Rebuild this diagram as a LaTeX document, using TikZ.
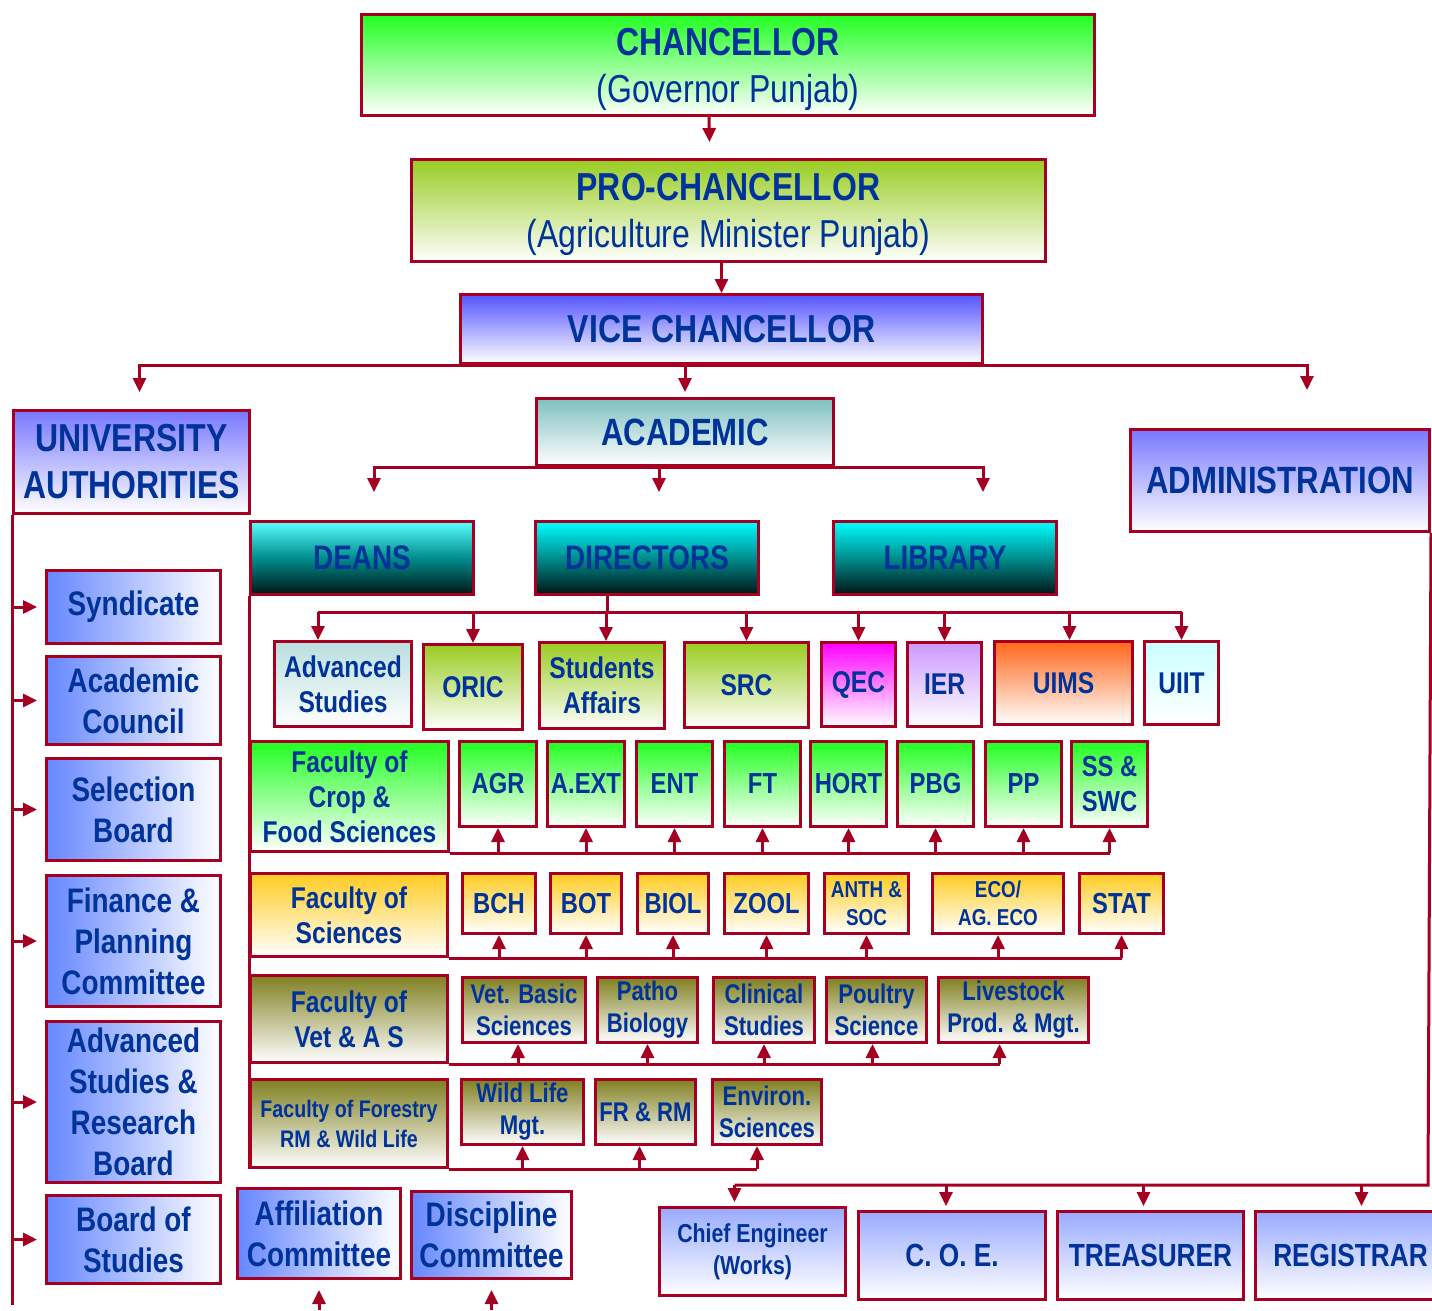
\documentclass[tikz,border=0pt]{standalone}
\usepackage{fontspec}
\setmainfont[FakeStretch=0.82]{Liberation Sans}
\usetikzlibrary{arrows.meta,calc}
\definecolor{BoxClr}{rgb}{0.647,0,0.129}
\definecolor{TxtClr}{rgb}{0,0.2,0.6}
\definecolor{GreenClr}{rgb}{0.13,1,0.13}
\definecolor{OliveClr}{rgb}{0.6,0.8,0.13}
\definecolor{VCClr}{rgb}{0.33,0.33,1}
\definecolor{UAClr}{rgb}{0.47,0.47,1}
\definecolor{AcadClr}{rgb}{0.5,0.75,0.75}
\definecolor{DeanMid}{rgb}{0,0.55,0.55}
\definecolor{DeanBot}{rgb}{0,0.08,0.08}
\definecolor{AdvClr}{rgb}{0.73,0.87,0.87}
\definecolor{QECClr}{rgb}{1,0,1}
\definecolor{IERClr}{rgb}{0.8,0.6,1}
\definecolor{UIMSClr}{rgb}{1,0.4,0.1}
\definecolor{UIITClr}{rgb}{0.8,1,1}
\definecolor{SciClr}{rgb}{1,0.8,0.13}
\definecolor{VetClr}{rgb}{0.5,0.5,0.13}
\definecolor{SideClr}{rgb}{0.4,0.53,1}
\definecolor{AdmClr}{rgb}{0.6,0.67,1}
\newcommand{\fsz}[2]{\fontsize{#1}{#2}\selectfont\bfseries}

\begin{document}
\begin{tikzpicture}[x=1pt,y=-1pt,
  unit/.style={draw=BoxClr,line width=3pt,text=TxtClr,align=center,inner sep=0pt,anchor=north west},
  vgrad/.style={top color=#1,bottom color=white},
  hgrad/.style={left color=#1,right color=white},
  dgrad/.style={top color=#1,bottom color=DeanBot,middle color=DeanMid},
  wire/.style={draw=BoxClr,line width=3pt},
  link/.style={wire,-{Triangle[length=14pt,width=13pt]}},
  hugetxt/.style={font=\fsz{39}{47}},
  bigtxt/.style={font=\fsz{34}{41}},
  midtxt/.style={font=\fsz{30}{35}},
  smalltxt/.style={font=\fsz{27}{32}},
  tinytxt/.style={font=\fsz{23}{28}}]
\useasboundingbox (0,0) rectangle (1432,1310);

% top of the chart
\node[unit,vgrad=GreenClr,hugetxt,minimum width=733pt,minimum height=101pt,text depth=-4pt] (chanc) at (360,13) {CHANCELLOR\\\mdseries(Governor Punjab)};
\node[unit,vgrad=OliveClr,hugetxt,minimum width=634pt,minimum height=102pt,text depth=-4pt] (pro) at (410,158) {PRO-CHANCELLOR\\\mdseries(Agriculture Minister Punjab)};
\node[unit,vgrad=VCClr,hugetxt,minimum width=522pt,minimum height=69pt] (vc) at (459,293) {VICE CHANCELLOR};

\node[unit,vgrad=UAClr,hugetxt,minimum width=236pt,minimum height=103pt] (ua) at (12,409) {UNIVERSITY\\AUTHORITIES};
\node[unit,vgrad=AcadClr,font=\fsz{38}{44},minimum width=297pt,minimum height=67pt] (acad) at (535,397) {ACADEMIC};
\node[unit,vgrad=UAClr,font=\fsz{38}{44},minimum width=299pt,minimum height=102pt] (admin) at (1129,428) {ADMINISTRATION};

\node[unit,dgrad=cyan!65!white,bigtxt,minimum width=223pt,minimum height=73pt] (deans) at (249,520) {DEANS};
\node[unit,dgrad=cyan,bigtxt,minimum width=223pt,minimum height=73pt] (dirs) at (534,520) {DIRECTORS};
\node[unit,dgrad=cyan,bigtxt,minimum width=223pt,minimum height=73pt] (lib) at (832,520) {LIBRARY};

% university authorities
\node[unit,hgrad=SideClr,bigtxt,minimum width=174pt,minimum height=73pt] (synd) at (45,569) {Syndicate};
\node[unit,hgrad=SideClr,bigtxt,minimum width=174pt,minimum height=88pt] (acc) at (45,655) {Academic\\Council};
\node[unit,hgrad=SideClr,bigtxt,minimum width=174pt,minimum height=102pt] (selb) at (45,757) {Selection\\Board};
\node[unit,hgrad=SideClr,bigtxt,minimum width=174pt,minimum height=131pt] (fpc) at (45,874) {Finance \&\\Planning\\Committee};
\node[unit,hgrad=SideClr,bigtxt,minimum width=174pt,minimum height=161pt] (asrb) at (45,1020) {Advanced\\Studies \&\\Research\\Board};
\node[unit,hgrad=SideClr,bigtxt,minimum width=174pt,minimum height=88pt] (bos) at (45,1194) {Board of\\Studies};
\node[unit,hgrad=SideClr,bigtxt,minimum width=163pt,minimum height=90pt] (affil) at (236,1187) {Affiliation\\Committee};
\node[unit,hgrad=SideClr,bigtxt,minimum width=160pt,minimum height=87pt] (disc) at (410,1190) {Discipline\\Committee};

% directorates
\node[unit,vgrad=AdvClr,midtxt,minimum width=137pt,minimum height=85pt] (advst) at (273,640) {Advanced\\Studies};
\node[unit,vgrad=OliveClr,midtxt,minimum width=99pt,minimum height=85pt] (oric) at (422,643) {ORIC};
\node[unit,vgrad=OliveClr,midtxt,minimum width=125pt,minimum height=86pt] (stuaff) at (538,641) {Students\\Affairs};
\node[unit,vgrad=OliveClr,midtxt,minimum width=124pt,minimum height=85pt] (src) at (683,641) {SRC};
\node[unit,vgrad=QECClr,midtxt,minimum width=74pt,minimum height=84pt] (qec) at (820,641) {QEC};
\node[unit,vgrad=IERClr,midtxt,minimum width=74pt,minimum height=84pt] (ier) at (906,641) {IER};
\node[unit,vgrad=UIMSClr,midtxt,minimum width=138pt,minimum height=83pt] (uims) at (993,640) {UIMS};
\node[unit,vgrad=UIITClr,midtxt,minimum width=74pt,minimum height=83pt] (uiit) at (1143,640) {UIIT};

% faculty of crop and food sciences
\node[unit,vgrad=GreenClr,midtxt,minimum width=198pt,minimum height=110pt] (crop) at (249,740) {Faculty of\\Crop \&\\Food Sciences};
\node[unit,vgrad=GreenClr,font=\fsz{29}{35},minimum width=77pt,minimum height=85pt] (agr) at (458,740) {AGR};
\node[unit,vgrad=GreenClr,font=\fsz{29}{35},minimum width=77pt,minimum height=85pt] (aext) at (546,740) {A.EXT};
\node[unit,vgrad=GreenClr,font=\fsz{29}{35},minimum width=76pt,minimum height=85pt] (ent) at (635,740) {ENT};
\node[unit,vgrad=GreenClr,font=\fsz{29}{35},minimum width=76pt,minimum height=85pt] (ft) at (723,740) {FT};
\node[unit,vgrad=GreenClr,font=\fsz{29}{35},minimum width=76pt,minimum height=85pt] (hort) at (809,740) {HORT};
\node[unit,vgrad=GreenClr,font=\fsz{29}{35},minimum width=76pt,minimum height=85pt] (pbg) at (896,740) {PBG};
\node[unit,vgrad=GreenClr,font=\fsz{29}{35},minimum width=76pt,minimum height=85pt] (pp) at (984,740) {PP};
\node[unit,vgrad=GreenClr,font=\fsz{29}{35},minimum width=76pt,minimum height=85pt] (sswc) at (1070,740) {SS \&\\SWC};

% faculty of sciences
\node[unit,vgrad=SciClr,midtxt,minimum width=197pt,minimum height=83pt] (sci) at (249,872) {Faculty of\\Sciences};
\node[unit,vgrad=SciClr,font=\fsz{29}{35},minimum width=73pt,minimum height=60pt] (bch) at (461,872) {BCH};
\node[unit,vgrad=SciClr,font=\fsz{29}{35},minimum width=71pt,minimum height=60pt] (bot) at (549,872) {BOT};
\node[unit,vgrad=SciClr,font=\fsz{29}{35},minimum width=71pt,minimum height=60pt] (biol) at (636,872) {BIOL};
\node[unit,vgrad=SciClr,font=\fsz{29}{35},minimum width=84pt,minimum height=60pt] (zool) at (723,872) {ZOOL};
\node[unit,vgrad=SciClr,tinytxt,minimum width=84pt,minimum height=60pt] (anth) at (823,872) {ANTH \&\\SOC};
\node[unit,vgrad=SciClr,tinytxt,minimum width=131pt,minimum height=60pt] (eco) at (931,872) {ECO/\\AG. ECO};
\node[unit,vgrad=SciClr,font=\fsz{29}{35},minimum width=84pt,minimum height=60pt] (stat) at (1078,872) {STAT};

% faculty of veterinary and animal sciences
\node[unit,vgrad=VetClr,midtxt,minimum width=197pt,minimum height=87pt] (vet) at (249,974) {Faculty of\\Vet \& A S};
\node[unit,vgrad=VetClr,smalltxt,minimum width=123pt,minimum height=65pt] (vbs) at (461,976) {Vet. Basic\\Sciences};
\node[unit,vgrad=VetClr,smalltxt,minimum width=100pt,minimum height=65pt] (patho) at (596,976) {Patho\\Biology};
\node[unit,vgrad=VetClr,smalltxt,minimum width=101pt,minimum height=65pt] (clin) at (712,976) {Clinical\\Studies};
\node[unit,vgrad=VetClr,smalltxt,minimum width=100pt,minimum height=65pt] (poul) at (825,976) {Poultry\\Science};
\node[unit,vgrad=VetClr,smalltxt,minimum width=150pt,minimum height=65pt] (live) at (937,976) {Livestock\\Prod. \& Mgt.};

% faculty of forestry
\node[unit,vgrad=VetClr,font=\fsz{24}{30},minimum width=197pt,minimum height=88pt] (forest) at (249,1078) {Faculty of Forestry\\RM \& Wild Life};
\node[unit,vgrad=VetClr,smalltxt,minimum width=122pt,minimum height=65pt] (wlm) at (460,1078) {Wild Life\\Mgt.};
\node[unit,vgrad=VetClr,smalltxt,minimum width=100pt,minimum height=65pt] (frrm) at (594,1078) {FR \& RM};
\node[unit,vgrad=VetClr,smalltxt,minimum width=109pt,minimum height=65pt] (env) at (711,1078) {Environ.\\Sciences};

% administration
\node[unit,vgrad=AdmClr,font=\fsz{26}{32},minimum width=186pt,minimum height=88pt] (chief) at (658,1206) {Chief Engineer\\(Works)};
\node[unit,vgrad=AdmClr,font=\fsz{32}{38},minimum width=187pt,minimum height=88pt] (coe) at (857,1210) {C. O. E.};
\node[unit,vgrad=AdmClr,font=\fsz{32}{38},minimum width=186pt,minimum height=88pt] (treas) at (1056,1210) {TREASURER};
\node[unit,vgrad=AdmClr,font=\fsz{32}{38},minimum width=190pt,minimum height=88pt] (reg) at (1254,1210) {REGISTRAR};

\coordinate (uaend) at (12,1305);
\coordinate (admbus) at (1428,1185);
\coordinate (pagebot) at (0,1310);
\coordinate (dirbus) at ([xshift=-40pt,yshift=-16pt]dirs.south);

% connectors
\draw[link] ([xshift=-19pt]chanc.south) -- ([xshift=-19pt,yshift=16pt]pro.north);
\draw[link] (pro.south -| vc.north) -- (vc.north);
\draw[link] (vc.south) -| ([xshift=8pt,yshift=17pt]ua.north);
\draw[link] (vc.south) -| ([xshift=27pt,yshift=38pt]admin.north);
\draw[link] (vc.south -| acad.north) -- ([yshift=5pt]acad.north);

\draw[link] (acad.south) -| ([xshift=12pt,yshift=28pt]deans.north);
\draw[link] (acad.south) -| ([xshift=38pt,yshift=28pt]lib.north);
\draw[link] ([xshift=12pt]acad.south -| dirs.north) -- ([xshift=12pt,yshift=28pt]dirs.north);

\draw[wire] (dirs.south -| dirbus) -- (dirbus);
\draw[wire] ([xshift=-25pt]dirbus -| advst.north) -- (dirbus -| uiit.north);
\foreach \n/\dx in {advst/-25,oric/0,stuaff/4,src/0,qec/0,ier/0,uims/6,uiit/0}
  \draw[link] ([xshift=\dx pt]dirbus -| \n.north) -- ([xshift=\dx pt]\n.north);

\draw[wire] (deans.south west) -- (forest.south west);
\draw[wire] (crop.south east) -- (crop.south east -| sswc.south);
\foreach \n in {agr,aext,ent,ft,hort,pbg,pp,sswc}
  \draw[link] (crop.south east -| \n.south) -- (\n.south);
\draw[wire] (sci.south east) -- (sci.south east -| stat.south);
\foreach \n in {bch,bot,biol,zool,anth,eco,stat}
  \draw[link] (sci.south east -| \n.south) -- (\n.south);
\draw[wire] (vet.south east) -- ([xshift=-14pt]vet.south east -| live.south);
\foreach \n/\dx in {vbs/-6,patho/0,clin/0,poul/-4,live/-14}
  \draw[link] ([xshift=\dx pt]vet.south east -| \n.south) -- ([xshift=\dx pt]\n.south);
\draw[wire] (forest.south east) -- ([xshift=-10pt]forest.south east -| env.south);
\foreach \n/\dx in {wlm/0,frrm/-6,env/-10}
  \draw[link] ([xshift=\dx pt]forest.south east -| \n.south) -- ([xshift=\dx pt]\n.south);

\draw[wire] (ua.south west) -- (uaend);
\foreach \n in {synd,acc,selb,fpc,asrb,bos}
  \draw[link] (ua.south west |- \n.west) -- ([xshift=-8pt]\n.west);
\draw[link] (pagebot -| affil.south) -- ([yshift=-10pt]affil.south);
\draw[link] (pagebot -| disc.south) -- ([yshift=-10pt]disc.south);

\draw[wire] (admin.south east) -- (admbus) -- ([xshift=-18pt]admbus -| chief.north);
\foreach \n/\dx in {chief/-18,coe/-6,treas/-7,reg/11}
  \draw[link] ([xshift=\dx pt]admbus -| \n.north) -- ([xshift=\dx pt,yshift=4pt]\n.north);

\end{tikzpicture}
\end{document}
